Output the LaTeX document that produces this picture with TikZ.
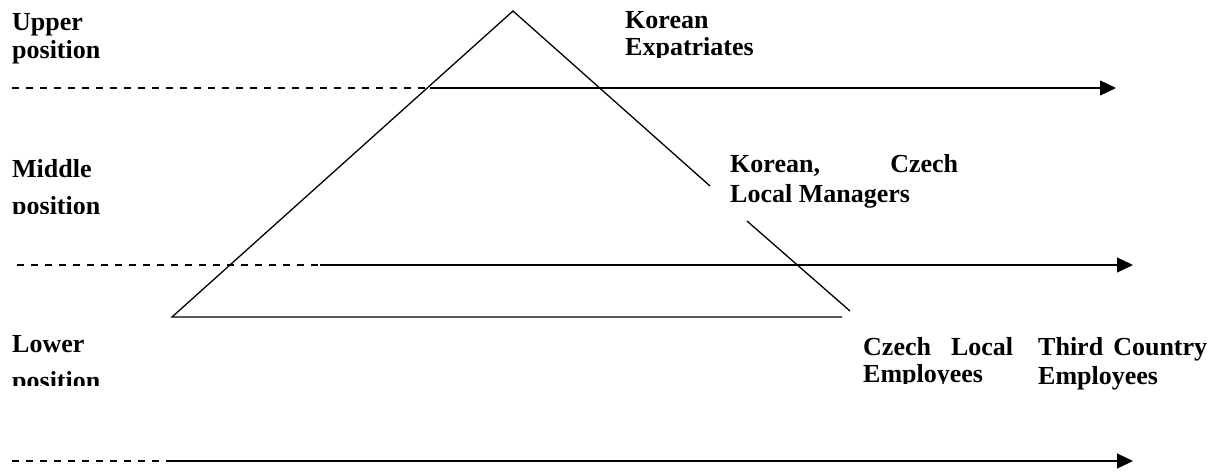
\documentclass[tikz,border=0pt]{standalone}
\usepackage{fontspec}
\setmainfont{Liberation Serif}
\usetikzlibrary{arrows.meta}
\begin{document}
\begin{tikzpicture}[x=1pt,y=-1pt,
  lbl/.style={anchor=base west,inner sep=0pt,font=\fontsize{26}{28}\selectfont\bfseries},
  ln/.style={line width=1.3pt},
  dsh/.style={line width=1.3pt,dash pattern=on 7pt off 7pt},
  arr/.style={line width=1.3pt,-{Triangle[length=16pt,width=15pt]}}]
\useasboundingbox (0,0) rectangle (1221,472);
% level lines
\coordinate (u0) at (12,88);  \coordinate (u1) at (430,88);  \coordinate (u2) at (1116,88);
\coordinate (m0) at (17,265); \coordinate (m1) at (320,265); \coordinate (m2) at (1133,265);
\coordinate (l0) at (12,461); \coordinate (l1) at (170,461); \coordinate (l2) at (1133,461);
\draw[dsh] (u0) -- (u1); \draw[arr] (u1) -- (u2);
\draw[dsh] (m0) -- (m1); \draw[arr] (m1) -- (m2);
\draw[dsh] (l0) -- (l1); \draw[arr] (l1) -- (l2);
% triangle
\coordinate (apex) at (513,11);
\coordinate (bl) at (172,317);
\coordinate (br) at (842,317);
\coordinate (r1) at (710,186);
\coordinate (r2) at (747,221);
\coordinate (r3) at (850,311);
\draw[ln] (br) -- (bl) -- (apex) -- (r1);
\draw[ln] (r2) -- (r3);
% labels
\node[lbl] (up1) at (12,30) {Upper};
\node[lbl] (up2) at (12,58) {position};
\node[lbl] (ke1) at (625,28) {Korean};
\begin{scope}
  \clip (600,30) rectangle (800,57);
  \node[lbl] (ke2) at (625,55) {Expatriates};
\end{scope}
\node[lbl] (mi1) at (12,177) {Middle};
\begin{scope}
  \clip (0,180) rectangle (200,213);
  \node[lbl] (mi2) at (12,214) {position};
\end{scope}
\node[lbl] (km1) at (730,172) {\makebox[228pt][s]{Korean, Czech}};
\node[lbl] (km2) at (730,202) {Local Managers};
\node[lbl] (lo1) at (12,352) {Lower};
\begin{scope}
  \clip (0,355) rectangle (200,385);
  \node[lbl] (lo2) at (12,389) {position};
\end{scope}
\node[lbl] (ce1) at (863,355) {\makebox[150pt][s]{Czech Local}};
\begin{scope}
  \clip (850,358) rectangle (1030,383);
  \node[lbl] (ce2) at (863,382) {Employees};
\end{scope}
\node[lbl] (tc1) at (1038,355) {\makebox[169pt][s]{Third Country}};
\node[lbl] (tc2) at (1038,384) {Employees};
\end{tikzpicture}
\end{document}
